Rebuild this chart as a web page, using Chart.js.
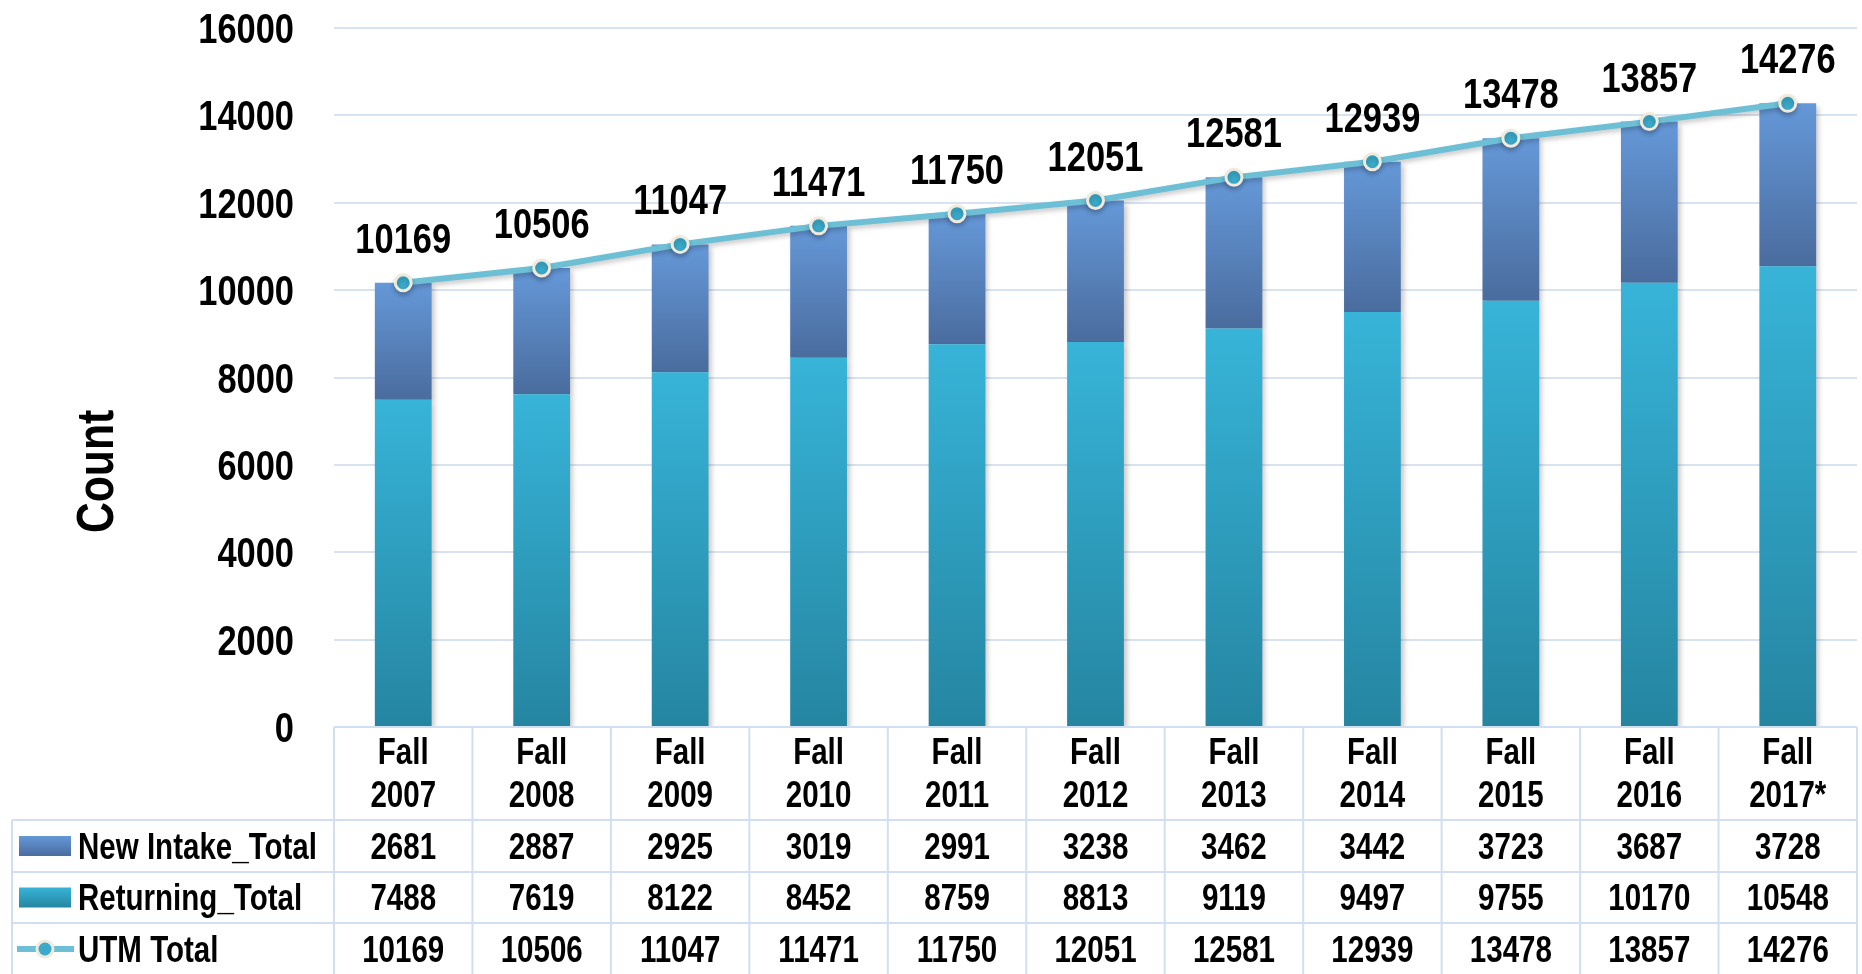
<!DOCTYPE html>
<html>
<head>
<meta charset="utf-8">
<title>UTM enrolment, Fall 2007 - Fall 2017</title>
<script src="https://cdn.jsdelivr.net/npm/chart.js@4/dist/chart.umd.min.js"></script>
<style>
  html, body { margin: 0; padding: 0; background: #fff; }
  canvas { display: block; }
</style>
</head>
<body>
<canvas id="chart" width="1862" height="974"></canvas>
<script>
// values
var categories = [["Fall","2007"],["Fall","2008"],["Fall","2009"],["Fall","2010"],["Fall","2011"],["Fall","2012"],["Fall","2013"],["Fall","2014"],["Fall","2015"],["Fall","2016"],["Fall","2017*"]];
var newIntake = [2681, 2887, 2925, 3019, 2991, 3238, 3462, 3442, 3723, 3687, 3728];
var returning = [7488, 7619, 8122, 8452, 8759, 8813, 9119, 9497, 9755, 10170, 10548];
var utmTotal = [10169, 10506, 11047, 11471, 11750, 12051, 12581, 12939, 13478, 13857, 14276];
var seriesNames = ["New Intake_Total", "Returning_Total", "UTM Total"];
var yTicks = [0, 2000, 4000, 6000, 8000, 10000, 12000, 14000, 16000];
var yTitle = "Count";

var GRID = '#d8e3f2';

/* the original uses a bold narrow face. If no narrow font is installed
   we squeeze Liberation Sans Bold horizontally instead */
function hasFont(name) {
	var c = document.createElement('canvas').getContext('2d');
	var s = 'New Intake_Total 0123456789';
	c.font = 'bold 40px monospace';
	var a = c.measureText(s).width;
	c.font = 'bold 40px "' + name + '", monospace';
	return c.measureText(s).width !== a;
}
var FAMILY = '"Liberation Sans", Arial, sans-serif';
var SQUEEZE = 0.82;
if (hasFont('Liberation Sans Narrow')) { FAMILY = '"Liberation Sans Narrow"'; SQUEEZE = 1; }
else if (hasFont('Arial Narrow')) { FAMILY = '"Arial Narrow"'; SQUEEZE = 1; }

// text centred vertically on the cap height, so digits sit on y
function text(ctx, str, x, y, size, align, rot) {
	ctx.save();
	ctx.translate(x, y);
	if (rot) ctx.rotate(rot);
	ctx.scale(SQUEEZE, 1);
	ctx.font = 'bold ' + size + 'px ' + FAMILY;
	ctx.textAlign = align || 'center';
	ctx.textBaseline = 'alphabetic';
	ctx.fillStyle = '#000';
	ctx.fillText(str, 0, size * 0.358);
	ctx.restore();
}

var lows = [returning.map(function() { return 0; }), returning];
var highs = [returning, utmTotal];

// vertical gradient over one bar segment
function segGradient(c, top, bottom, low, high) {
	var chart = c.chart;
	var y = chart.scales && chart.scales.y;
	if (!chart.chartArea || !y || c.type !== 'data') return top;
	var i = c.dataIndex;
	var y0 = y.getPixelForValue(high[i]);
	var y1 = y.getPixelForValue(low[i]);
	if (!isFinite(y0) || !isFinite(y1) || y0 === y1) return top;
	var g = chart.ctx.createLinearGradient(0, y0, 0, y1);
	g.addColorStop(0, top);
	g.addColorStop(1, bottom);
	return g;
}

// y tick labels and axis title, placed from the y scale
var yLabels = {
	id: 'yLabels',
	afterDraw: function(chart) {
		var ctx = chart.ctx, ys = chart.scales.y, area = chart.chartArea;
		yTicks.forEach(function(v) {
			text(ctx, String(v), area.left - 40, ys.getPixelForValue(v), 42, 'right');
		});
		text(ctx, yTitle, 94, chart.height * 0.484, 52, 'center', -Math.PI / 2);
	}
};

/* the data table under the plot, column positions come from the x scale */
var tablePlugin = {
	id: 'dataTable',
	afterDraw: function(chart) {
		var ctx = chart.ctx, xs = chart.scales.x, area = chart.chartArea;
		var n = categories.length;
		var colW = xs.width / n;
		var left = xs.left, right = xs.right;
		var top = area.bottom;
		var rows = [top, top + 93, top + 145, top + 196, top + 248];
		var tabLeft = 12;

		ctx.save();
		ctx.strokeStyle = '#d2dff0';
		ctx.lineWidth = 2;
		ctx.beginPath();
		ctx.moveTo(left, rows[0]); ctx.lineTo(right, rows[0]);
		for (var r = 1; r < rows.length; r++) {
			ctx.moveTo(tabLeft, rows[r]); ctx.lineTo(right, rows[r]);
		}
		ctx.moveTo(tabLeft, rows[1]); ctx.lineTo(tabLeft, rows[4]);
		for (var k = 0; k <= n; k++) {
			var xx = left + k * colW;
			ctx.moveTo(xx, rows[0]); ctx.lineTo(xx, rows[4]);
		}
		ctx.stroke();

		var rowData = [newIntake, returning, utmTotal];
		for (var i = 0; i < n; i++) {
			var cx = xs.getPixelForValue(i);
			text(ctx, categories[i][0], cx, rows[0] + 24, 36);
			text(ctx, categories[i][1], cx, rows[0] + 67, 36);
			for (var j = 0; j < 3; j++) {
				text(ctx, String(rowData[j][i]), cx, (rows[j + 1] + rows[j + 2]) / 2, 36);
			}
		}

		// legend keys
		for (var s = 0; s < 3; s++) {
			var cy = (rows[s + 1] + rows[s + 2]) / 2;
			text(ctx, seriesNames[s], 78, cy, 36, 'left');
			if (s < 2) {
				var tc = s === 0 ? ['#6598d8', '#4a6c9e'] : ['#37b4d8', '#2585a1'];
				var g = ctx.createLinearGradient(0, cy - 10, 0, cy + 10);
				g.addColorStop(0, tc[0]); g.addColorStop(1, tc[1]);
				ctx.fillStyle = g;
				ctx.fillRect(19, cy - 10, 52, 20);
			} else {
				ctx.strokeStyle = '#6cbfd4';
				ctx.lineWidth = 6;
				ctx.beginPath(); ctx.moveTo(17, cy); ctx.lineTo(74, cy); ctx.stroke();
				ctx.beginPath(); ctx.arc(45, cy, 8, 0, Math.PI * 2);
				ctx.fillStyle = '#3aa9ca'; ctx.fill();
				ctx.lineWidth = 3; ctx.strokeStyle = '#efeadb'; ctx.stroke();
			}
		}
		ctx.restore();
	}
};

// total above each point of the line
var totalLabels = {
	id: 'totalLabels',
	afterDatasetsDraw: function(chart) {
		var meta = chart.getDatasetMeta(2);
		meta.data.forEach(function(pt, i) {
			text(chart.ctx, String(utmTotal[i]), pt.x, pt.y - 45, 42);
		});
	}
};

// soft drop shadow on bars and line
var shadows = {
	id: 'shadows',
	beforeDatasetDraw: function(chart, args) {
		var ctx = chart.ctx;
		ctx.save();
		ctx.shadowColor = 'rgba(0,0,0,0.22)';
		ctx.shadowBlur = 5;
		ctx.shadowOffsetX = args.index === 2 ? 0 : 3;
		ctx.shadowOffsetY = 3;
	},
	afterDatasetDraw: function(chart) {
		chart.ctx.restore();
	}
};

new Chart(document.getElementById('chart'), {
	type: 'bar',
	data: {
		labels: categories,
		datasets: [
			{
				label: seriesNames[1],
				data: returning,
				stack: 'bars',
				order: 2,
				backgroundColor: function(c) { return segGradient(c, '#37b4d8', '#2585a1', lows[0], highs[0]); },
				categoryPercentage: 1,
				barPercentage: 0.41
			},
			{
				label: seriesNames[0],
				data: newIntake,
				stack: 'bars',
				order: 2,
				backgroundColor: function(c) { return segGradient(c, '#6598d8', '#4a6c9e', lows[1], highs[1]); },
				categoryPercentage: 1,
				barPercentage: 0.41
			},
			{
				type: 'line',
				label: seriesNames[2],
				data: utmTotal,
				stack: 'line',
				order: 0,
				borderColor: '#6cbfd4',
				borderWidth: 6,
				tension: 0,
				pointRadius: 8,
				pointBackgroundColor: '#3aa9ca',
				pointBorderColor: '#efeadb',
				pointBorderWidth: 3
			}
		]
	},
	options: {
		responsive: false,
		animation: false,
		devicePixelRatio: 1,
		layout: { autoPadding: false, padding: { top: 28, right: 5, left: 0, bottom: 0 } },
		plugins: {
			legend: { display: false },
			tooltip: { enabled: false }
		},
		scales: {
			x: {
				stacked: true,
				grid: { display: false },
				border: { display: false },
				ticks: { display: false },
				afterFit: function(axis) { axis.height = 247; }
			},
			y: {
				stacked: true,
				min: 0,
				max: 16000,
				afterBuildTicks: function(axis) {
					axis.ticks = yTicks.map(function(v) { return { value: v }; });
				},
				grid: { color: GRID, lineWidth: 2, drawTicks: false },
				border: { display: false },
				ticks: { display: false },
				afterFit: function(axis) { axis.width = 334; }
			}
		}
	},
	plugins: [shadows, totalLabels, yLabels, tablePlugin]
});
</script>
</body>
</html>
